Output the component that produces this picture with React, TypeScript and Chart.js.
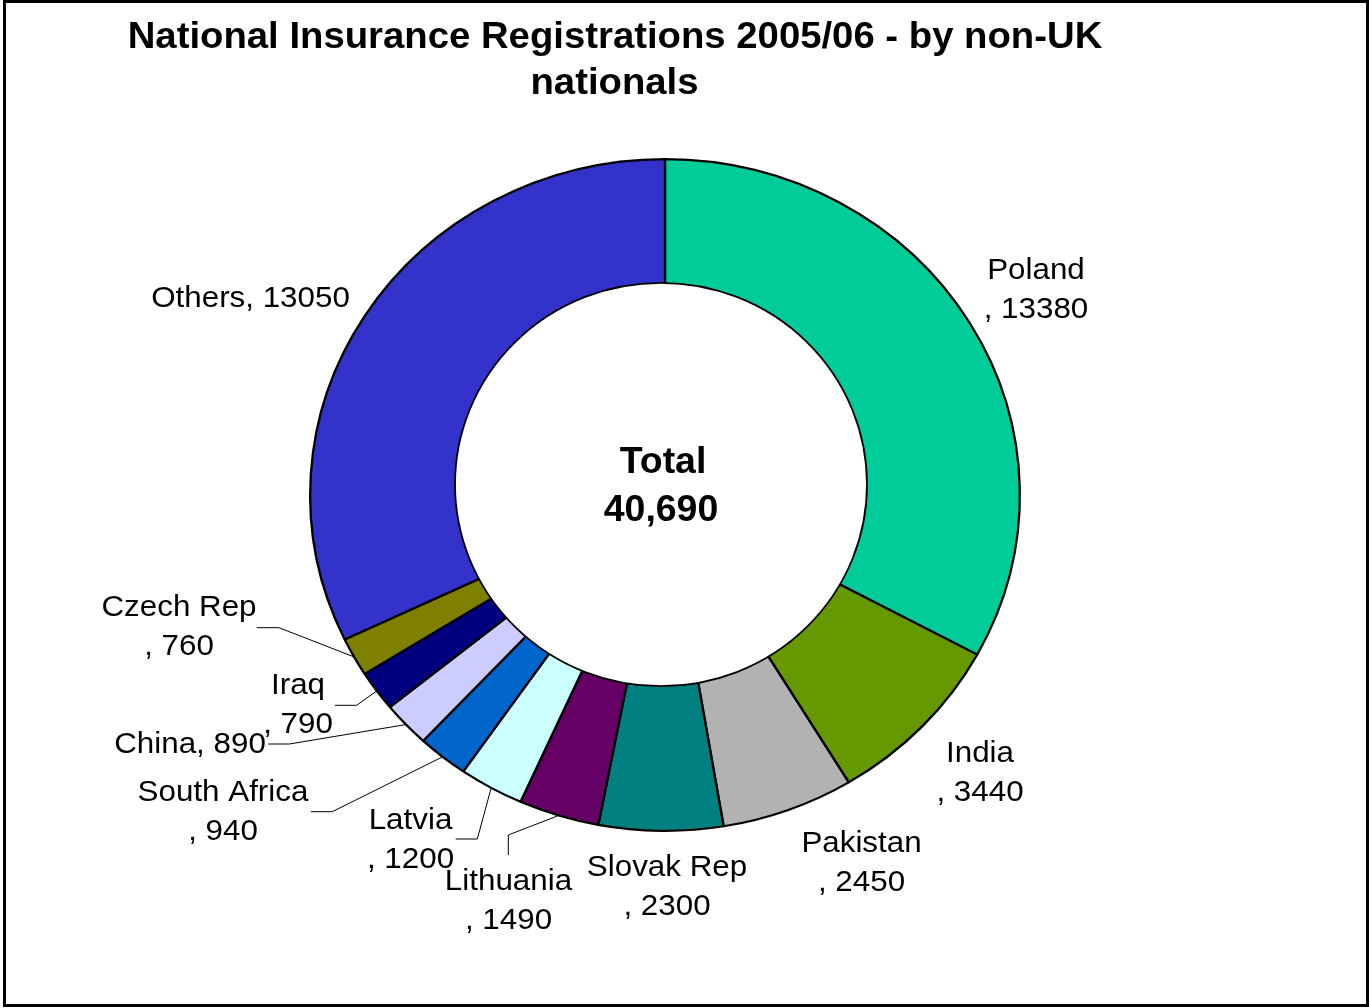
import React, { useEffect, useRef } from "react";
import { Chart, registerables } from "chart.js";

Chart.register(...registerables);

// ---- data ----
const categories = [
  "Poland",
  "India",
  "Pakistan",
  "Slovak Rep",
  "Lithuania",
  "Latvia",
  "South Africa",
  "China",
  "Iraq",
  "Czech Rep",
  "Others",
];
const registrations = [13380, 3440, 2450, 2300, 1490, 1200, 940, 890, 790, 760, 13050];
const sliceColors = [
  "#00CC99",
  "#669900",
  "#B2B2B2",
  "#008080",
  "#660066",
  "#CCFFFF",
  "#0066CC",
  "#CCCCFF",
  "#000080",
  "#808000",
  "#3333CC",
];
const titleLines = ["National Insurance Registrations 2005/06 - by non-UK", "nationals"];
const totalLabel = "Total";

// ---- layout (label placement, not data) ----
const labelLayout = [
  { x: 1036, y: 279, wrap: true },
  { x: 980, y: 762, wrap: true },
  { x: 861.5, y: 851.5, wrap: true },
  { x: 667, y: 875.5, wrap: true },
  { x: 508.5, y: 890, wrap: true },
  { x: 410.5, y: 828.5, wrap: true },
  { x: 223, y: 800.5, wrap: true },
  { x: 190, y: 752.5, wrap: false },
  { x: 298, y: 693.5, wrap: true },
  { x: 179, y: 616, wrap: true },
  { x: 250.5, y: 306.5, wrap: false },
];
const leaderElbows: Record<number, number[][]> = {
  9: [[256.7, 627.7], [279, 627.7]],
  8: [[335, 705.3], [356.7, 705.3]],
  7: [[268.3, 744], [289.3, 744]],
  6: [[311, 811.7], [332.3, 811.7]],
  5: [[455.7, 839], [477.3, 839]],
  4: [[508.3, 855], [508.3, 835]],
};

const FONT = '"Liberation Sans", Arial, Helvetica, sans-serif';
const STRETCH = 1.0564;

function drawText(ctx: CanvasRenderingContext2D, t: string, x: number, y: number, sx: number) {
  ctx.save();
  ctx.translate(x, y);
  ctx.scale(sx, 1);
  ctx.fillText(t, 0, 0);
  ctx.restore();
}

const donutPlugin = {
  id: "donutExtras",
  beforeDraw(chart: any) {
    const ctx = chart.ctx as CanvasRenderingContext2D;
    ctx.save();
    ctx.fillStyle = "#ffffff";
    ctx.fillRect(0, 0, chart.width, chart.height);
    ctx.restore();
  },
  beforeDatasetsDraw(chart: any) {
    const ctx = chart.ctx as CanvasRenderingContext2D;
    const arc = chart.getDatasetMeta(0).data[0];
    const cx = arc.x;
    ctx.save();
    ctx.translate(cx, 0);
    ctx.scale(STRETCH, 1);
    ctx.translate(-cx, 0);
  },
  afterDatasetsDraw(chart: any) {
    const ctx = chart.ctx as CanvasRenderingContext2D;
    ctx.restore();
    const meta = chart.getDatasetMeta(0);
    const first = meta.data[0];
    const cx = first.x;
    const cy = first.y;

    // centre oval with total
    ctx.save();
    ctx.beginPath();
    ctx.ellipse(cx - 4, cy - 10.5, 206, 201.7, 0, 0, Math.PI * 2);
    ctx.fillStyle = "#ffffff";
    ctx.fill();
    ctx.lineWidth = 1.8;
    ctx.strokeStyle = "#000000";
    ctx.stroke();
    const total = registrations.reduce((a, b) => a + b, 0);
    ctx.fillStyle = "#000000";
    ctx.textAlign = "center";
    ctx.textBaseline = "alphabetic";
    ctx.font = `bold 36px ${FONT}`;
    drawText(ctx, totalLabel, cx - 2, cy - 22, 1.04);
    drawText(ctx, total.toLocaleString("en-GB"), cx - 4, cy + 25.7, 1.04);
    ctx.restore();

    // leader lines
    ctx.save();
    ctx.strokeStyle = "#000000";
    ctx.lineWidth = 1;
    Object.keys(leaderElbows).forEach((k) => {
      const i = Number(k);
      const el = meta.data[i];
      const mid = (el.startAngle + el.endAngle) / 2;
      const R = el.outerRadius;
      const px = el.x + STRETCH * R * Math.cos(mid);
      const py = el.y + R * Math.sin(mid);
      const pts = leaderElbows[i];
      ctx.beginPath();
      ctx.moveTo(pts[0][0], pts[0][1]);
      ctx.lineTo(pts[1][0], pts[1][1]);
      ctx.lineTo(px, py);
      ctx.stroke();
    });
    ctx.restore();

    // data labels
    ctx.save();
    ctx.fillStyle = "#000000";
    ctx.textAlign = "center";
    ctx.textBaseline = "alphabetic";
    ctx.font = `30px ${FONT}`;
    categories.forEach((c, i) => {
      const L = labelLayout[i];
      if (L.wrap) {
        drawText(ctx, c, L.x, L.y, 1.045);
        drawText(ctx, ", " + registrations[i], L.x, L.y + 39, 1.045);
      } else {
        drawText(ctx, c + ", " + registrations[i], L.x, L.y, 1.045);
      }
    });
    ctx.restore();
  },
  afterDraw(chart: any) {
    const ctx = chart.ctx as CanvasRenderingContext2D;
    ctx.save();
    // title
    ctx.fillStyle = "#000000";
    ctx.textAlign = "center";
    ctx.textBaseline = "alphabetic";
    ctx.font = `bold 37px ${FONT}`;
    drawText(ctx, titleLines[0], 615, 48, 1.035);
    drawText(ctx, titleLines[1], 614.5, 94, 1.035);
    // frame
    ctx.strokeStyle = "#000000";
    ctx.lineWidth = 3;
    ctx.strokeRect(4.5, 1.5, 1363, 1004);
    ctx.restore();
  },
};

export default function App() {
  const canvasRef = useRef<HTMLCanvasElement | null>(null);

  useEffect(() => {
    const canvas = canvasRef.current;
    if (!canvas) return;
    const chart = new Chart(canvas, {
      type: "doughnut",
      data: {
        labels: categories,
        datasets: [
          {
            data: registrations,
            backgroundColor: sliceColors,
            borderColor: "#000000",
            borderWidth: 2.2,
            clip: false as any,
          },
        ],
      },
      options: {
        responsive: false,
        animation: false,
        cutout: "54%",
        rotation: 0,
        layout: { padding: { left: 328, right: 367, top: 158, bottom: 176 } },
        plugins: {
          legend: { display: false },
          title: { display: false },
          tooltip: { enabled: false },
        },
      },
      plugins: [donutPlugin],
    });
    return () => chart.destroy();
  }, []);

  return (
    <div style={{ position: "absolute", left: 0, top: 0, width: 1369, height: 1008 }}>
      <canvas ref={canvasRef} width={1369} height={1008} style={{ display: "block" }} />
    </div>
  );
}
